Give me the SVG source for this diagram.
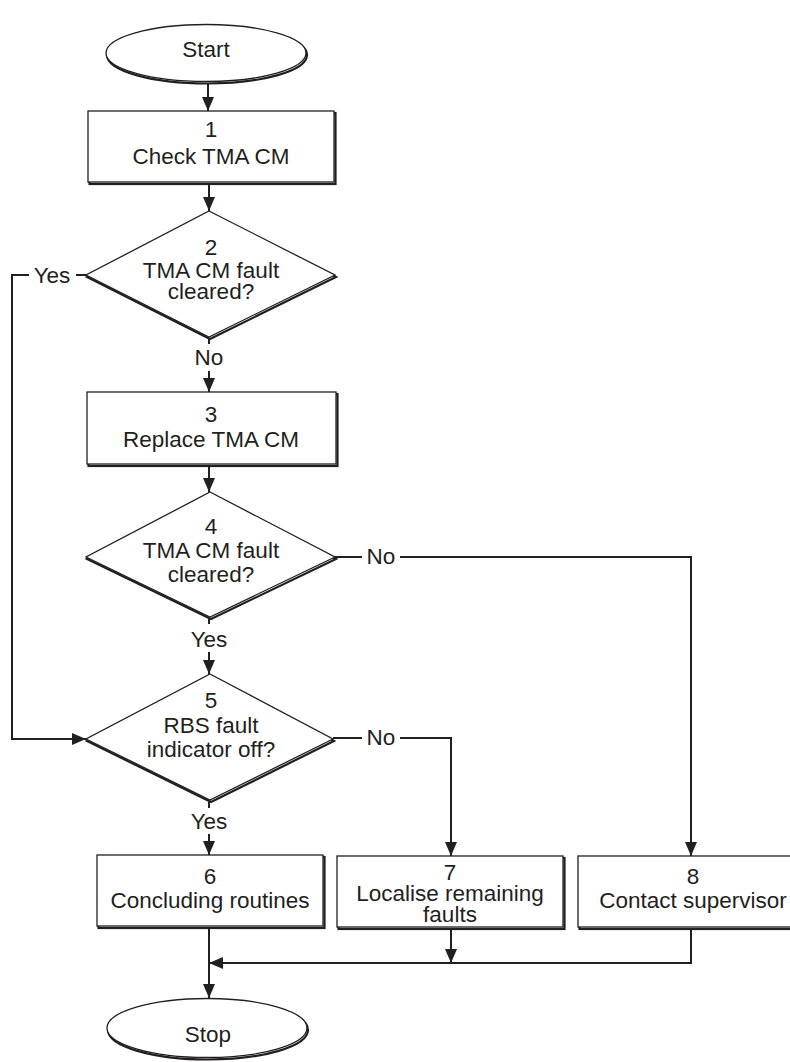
<svg xmlns="http://www.w3.org/2000/svg" width="790" height="1062" viewBox="0 0 790 1062">
<style>
text{font-family:"Liberation Sans",Arial,sans-serif;font-size:22.5px;fill:#231f20;text-anchor:middle}
.sh{fill:none;stroke:#231f20;stroke-width:2.2}
.sp{fill:#fff;stroke:#231f20;stroke-width:1.3}
.ln{fill:none;stroke:#231f20;stroke-width:2}
.ar{marker-end:url(#ah)}
</style>
<defs>
<marker id="ah" markerUnits="userSpaceOnUse" markerWidth="14" markerHeight="12" refX="14" refY="6" orient="auto" viewBox="0 0 14 12">
<path d="M0,0 L14,6 L0,12 z" fill="#231f20"/>
</marker>
</defs>
<rect width="790" height="1062" fill="#fff"/>
<g id="connectors">
<line class="ln ar" x1="208" y1="83" x2="208" y2="111"/>
<line class="ln ar" x1="209" y1="184" x2="209" y2="211"/>
<line class="ln" x1="209" y1="339" x2="209" y2="344"/>
<line class="ln ar" x1="209" y1="371" x2="209" y2="392"/>
<line class="ln ar" x1="209" y1="466" x2="209" y2="492"/>
<line class="ln" x1="209" y1="619" x2="209" y2="624"/>
<line class="ln ar" x1="209" y1="652" x2="209" y2="674"/>
<line class="ln" x1="209" y1="802" x2="209" y2="808"/>
<line class="ln ar" x1="209" y1="834" x2="209" y2="855"/>
<polyline class="ln" points="86,275 76,275"/>
<polyline class="ln ar" points="29,275 12,275 12,739 86,739"/>
<line class="ln" x1="335" y1="557" x2="362" y2="557"/>
<polyline class="ln ar" points="400,557 691,557 691,856"/>
<line class="ln" x1="333" y1="738" x2="362" y2="738"/>
<polyline class="ln ar" points="400,738 451,738 451,856"/>
<line class="ln ar" x1="209" y1="929" x2="209" y2="998"/>
<line class="ln ar" x1="451" y1="930" x2="451" y2="963"/>
<polyline class="ln ar" points="691,930 691,963 209,963"/>
</g>
<g id="start">
<ellipse class="sh" cx="207" cy="55" rx="100" ry="28.5"/>
<ellipse class="sp" cx="206" cy="53" rx="100" ry="28.5"/>
<text x="206" y="57">Start</text>
</g>
<g id="n1">
<rect class="sh" x="89.5" y="113" width="246" height="71"/>
<rect class="sp" x="88" y="111" width="246" height="71"/>
<text x="211" y="137">1</text>
<text x="211" y="164">Check TMA CM</text>
</g>
<g id="n2">
<polygon class="sh" points="210,213 336,277 210,339 87,277"/>
<polygon class="sp" points="209,211 335,275 209,337 86,275"/>
<text x="211" y="255">2</text>
<text x="211" y="278">TMA CM fault</text>
<text x="211" y="299">cleared?</text>
<text x="52" y="283">Yes</text>
<text x="209" y="365">No</text>
</g>
<g id="n3">
<rect class="sh" x="88.5" y="394" width="249" height="72"/>
<rect class="sp" x="87" y="392" width="249" height="72"/>
<text x="211" y="422">3</text>
<text x="211" y="447">Replace TMA CM</text>
</g>
<g id="n4">
<polygon class="sh" points="211,494 336,559 211,619 87,559"/>
<polygon class="sp" points="210,492 335,557 210,617 86,557"/>
<text x="211" y="534">4</text>
<text x="211" y="558">TMA CM fault</text>
<text x="211" y="582">cleared?</text>
<text x="381" y="564">No</text>
<text x="209" y="647">Yes</text>
</g>
<g id="n5">
<polygon class="sh" points="211,676 334,741 211,802 87,741"/>
<polygon class="sp" points="210,674 333,739 210,800 86,739"/>
<text x="211" y="708">5</text>
<text x="211" y="733">RBS fault</text>
<text x="211" y="757">indicator off?</text>
<text x="381" y="745">No</text>
<text x="209" y="829">Yes</text>
</g>
<g id="n6">
<rect class="sh" x="98.5" y="857" width="226" height="71"/>
<rect class="sp" x="97" y="855" width="226" height="71"/>
<text x="210" y="884">6</text>
<text x="210" y="908">Concluding routines</text>
</g>
<g id="n7">
<rect class="sh" x="338.5" y="858" width="226" height="71"/>
<rect class="sp" x="337" y="856" width="226" height="71"/>
<text x="450" y="880">7</text>
<text x="450" y="901">Localise remaining</text>
<text x="450" y="922">faults</text>
</g>
<g id="n8">
<rect class="sh" x="579.5" y="858" width="230" height="71"/>
<rect class="sp" x="578" y="856" width="230" height="71"/>
<text x="693" y="884">8</text>
<text x="693" y="908">Contact supervisor</text>
</g>
<g id="stop">
<ellipse class="sh" cx="208" cy="1030" rx="100" ry="29.5"/>
<ellipse class="sp" cx="207" cy="1028" rx="100" ry="29.5"/>
<text x="208" y="1042">Stop</text>
</g>
</svg>
